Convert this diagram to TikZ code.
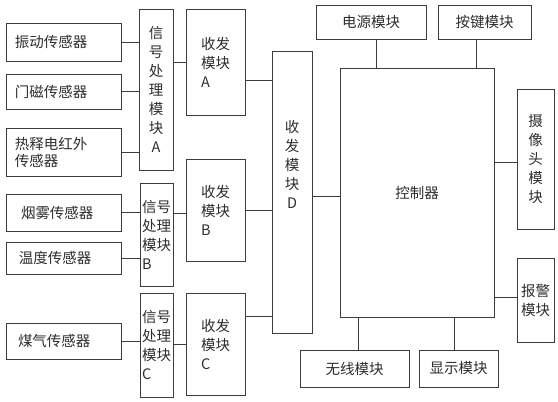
\documentclass[tikz,border=0pt]{standalone}
\usepackage{fontspec}
\newfontfamily\cjk{Noto Sans CJK SC}
\definecolor{linecol}{RGB}{60,60,60}
\definecolor{textcol}{RGB}{45,45,45}

\begin{document}
\begin{tikzpicture}[x=1pt, y=-1pt,
    box/.style={draw=linecol, line width=0.9pt, inner sep=0pt, text=textcol, font=\cjk\fontsize{14.5}{19}\selectfont, align=center},
    sensor/.style={box, minimum width=115pt, text width=97pt, inner xsep=9pt, align=left},
    wire/.style={draw=linecol, line width=0.9pt}]
    \useasboundingbox (0,0) rectangle (558,402);

    % sensors
    \node[sensor, minimum height=38pt] (vib) at (63.5,42) {振动传感器};
    \node[sensor, minimum height=35pt] (mag) at (63.5,91.5) {门磁传感器};
    \node[sensor, minimum height=48pt, font=\cjk\fontsize{14.5}{17}\selectfont] (pir) at (63.5,152) {热释电红外\\传感器};
    \node[sensor, minimum height=37pt, inner xsep=15pt, text width=85pt] (smoke) at (63.5,212.5) {烟雾传感器};
    \node[sensor, minimum height=32pt, inner xsep=13pt, text width=89pt] (temp) at (63.5,258) {温度传感器};
    \node[sensor, minimum height=36pt, inner xsep=12pt, text width=91pt] (gas) at (63.5,341) {煤气传感器};

    % signal processing
    \node[box, minimum width=34pt, minimum height=161pt] (spA) at (156,89.5) {信\\号\\处\\理\\模\\块\\A};
    \node[box, minimum width=33pt, minimum height=103pt, align=left] (spB) at (156.5,234.5) {信号\\处理\\模块\\B};
    \node[box, minimum width=33pt, minimum height=104pt, align=left] (spC) at (156.5,345) {信号\\处理\\模块\\C};

    % transceivers
    \node[box, minimum width=59pt, minimum height=106pt, align=left] (trA) at (215.5,62) {收发\\模块\\A};
    \node[box, minimum width=59pt, minimum height=102pt, align=left] (trB) at (215.5,210) {收发\\模块\\B};
    \node[box, minimum width=59pt, minimum height=102pt, align=left] (trC) at (215.5,344) {收发\\模块\\C};
    \node[box, minimum width=40pt, minimum height=282pt] (trD) at (292,192) {};
    \node[box, draw=none] (trDtext) at (292,164) {收\\发\\模\\块\\D};

    % controller and peripherals
    \node[box, minimum width=154pt, minimum height=249pt] (ctrl) at (417,192.5) {控制器};
    \node[box, minimum width=110pt, minimum height=34pt] (pwr) at (371,22) {电源模块};
    \node[box, minimum width=93pt, minimum height=34pt] (key) at (484.5,22) {按键模块};
    \node[box, minimum width=37pt, minimum height=140pt] (cam) at (535.5,159) {摄\\像\\头\\模\\块};
    \node[box, minimum width=37pt, minimum height=84pt] (alm) at (535.5,300) {报警\\模块};
    \node[box, minimum width=109pt, minimum height=37pt] (wls) at (354.5,368.5) {无线模块};
    \node[box, minimum width=79pt, minimum height=37pt] (disp) at (458.5,368.5) {显示模块};

    % connections
    \draw[wire] (vib.east) -- (vib.east -| spA.west);
    \draw[wire] (mag.east) -- (mag.east -| spA.west);
    \draw[wire] (pir.east) -- (pir.east -| spA.west);
    \draw[wire] (smoke.east) -- (smoke.east -| spB.west);
    \draw[wire] (temp.east) -- (temp.east -| spB.west);
    \draw[wire] (gas.east) -- (gas.east -| spC.west);

    \draw[wire] (trA.west -| spA.east) -- (trA.west);
    \draw[wire] ([yshift=-3pt]trB.west -| spB.east) -- ([yshift=-3pt]trB.west);
    \draw[wire] (trC.west -| spC.east) -- (trC.west);

    \draw[wire] ([yshift=-18pt]trA.east) -- ([yshift=-18pt]trA.east -| trD.west);
    \draw[wire] (trB.east) -- (trB.east -| trD.west);
    \draw[wire] ([yshift=28pt]trC.east) -- ([yshift=28pt]trC.east -| trD.west);
    \draw[wire] ([yshift=-4pt]trD.east) -- ([yshift=-4pt]trD.east -| ctrl.west);

    \draw[wire] ([xshift=5pt]pwr.south) -- ([xshift=5pt]pwr.south |- ctrl.north);
    \draw[wire] ([xshift=-8.5pt]key.south) -- ([xshift=-8.5pt]key.south |- ctrl.north);
    \draw[wire] ([yshift=-3pt]cam.west -| ctrl.east) -- ([yshift=-3pt]cam.west);
    \draw[wire] ([yshift=3pt]alm.west -| ctrl.east) -- ([yshift=3pt]alm.west);
    \draw[wire] ([xshift=3.5pt]wls.north |- ctrl.south) -- ([xshift=3.5pt]wls.north);
    \draw[wire] ([xshift=-4.5pt]disp.north |- ctrl.south) -- ([xshift=-4.5pt]disp.north);

\end{tikzpicture}
\end{document}
